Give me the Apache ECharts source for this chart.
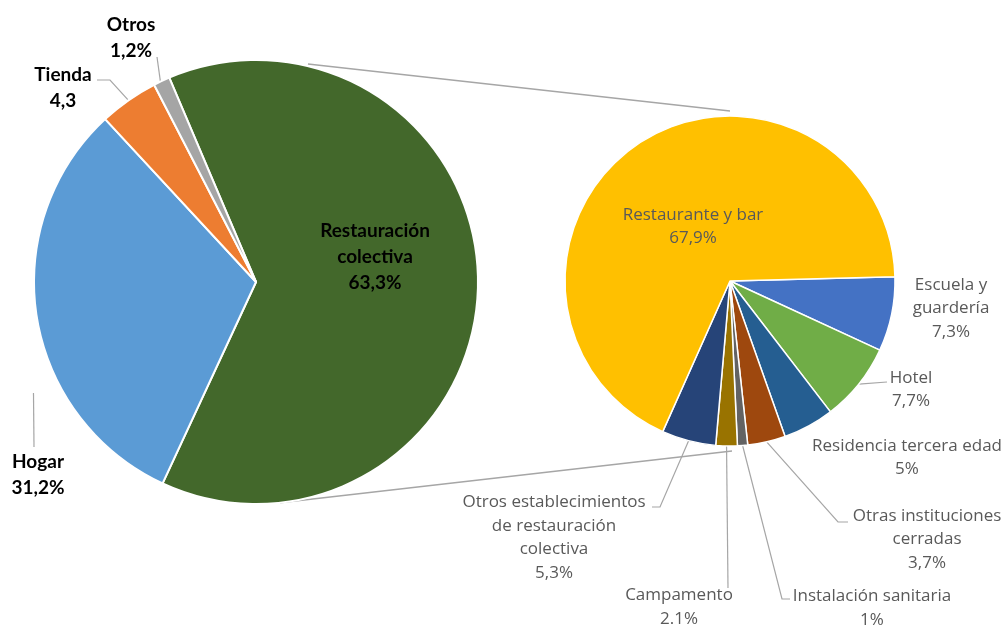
<!DOCTYPE html>
<html>
<head>
<meta charset="utf-8">
<script src="https://cdn.jsdelivr.net/npm/echarts@6/dist/echarts.min.js"></script>
<style>
  html, body { margin: 0; padding: 0; background: #ffffff; }
  #chart { width: 1003px; height: 626px; }
</style>
</head>
<body>
<div id="chart"></div>
<script>
// Where the food ends up
const mainNames = ['Restauración\ncolectiva', 'Hogar', 'Tienda', 'Otros'];
const mainValues = [63.3, 31.2, 4.3, 1.2];
const mainValueText = ['63,3%', '31,2%', '4,3', '1,2%'];

// Breakdown of "Restauración colectiva"
const subNames = [
  'Escuela y\nguardería',
  'Hotel',
  'Residencia tercera edad',
  'Otras instituciones\ncerradas',
  'Instalación sanitaria',
  'Campamento',
  'Otros establecimientos\nde restauración\ncolectiva',
  'Restaurante y bar'
];
const subValues = [7.3, 7.7, 5, 3.7, 1, 2.1, 5.3, 67.9];
const subValueText = ['7,3%', '7,7%', '5%', '3,7%', '1%', '2.1%', '5,3%', '67,9%'];

// Slice colours
const mainColors = ['#43682B', '#5B9BD5', '#ED7D31', '#A5A5A5'];
const subColors = ['#4472C4', '#70AD47', '#255E91', '#9E480E', '#636363', '#997300', '#264478', '#FFC000'];

// Pie geometry (pixels; start angle in ECharts degrees, counter-clockwise from 3 o'clock)
const MAIN = { cx: 256, cy: 282, r: 222, start: 113 };
const SUB = { cx: 730, cy: 281, r: 165, start: 1.5 };

// Label placement: block centre, optional leader path after the anchor on the slice
const mainLabelPos = [
  { x: 375, y: 257 },
  { x: 38, y: 475, anchor: { angle: 243.5, rf: 1.12 }, path: [[34, 447]] },
  { x: 63, y: 88, path: [[110, 80], [97, 80]] },
  { x: 131, y: 38, anchor: { angle: 334.5 }, path: [[157, 57]] }
];
const subLabelPos = [
  { x: 951, y: 308.5 },
  { x: 911, y: 389.5, path: [[887, 382]] },
  { x: 907, y: 457.5 },
  { x: 927, y: 539.5, path: [[838, 522], [848, 522]] },
  { x: 872, y: 608, path: [[782, 599], [790, 599]] },
  { x: 679, y: 607, path: [[728, 588]] },
  { x: 554, y: 537.5, path: [[660, 507], [652, 507]] },
  { x: 693, y: 226.5 }
];

// Clock angle (degrees clockwise from 12 o'clock) of a slice's middle
function midAngle(g, values, idx) {
  const total = values.reduce((a, b) => a + b, 0);
  let before = 0;
  for (let i = 0; i < idx; i++) before += values[i];
  return (90 - g.start) + (before + values[idx] / 2) / total * 360;
}

function polar(g, clockDeg, rf) {
  const a = clockDeg * Math.PI / 180;
  const r = g.r * (rf || 1);
  return [g.cx + r * Math.sin(a), g.cy - r * Math.cos(a)];
}

function makeLabelLayout(g, values, table) {
  return function (params) {
    const t = table[params.dataIndex];
    const out = { x: t.x, y: t.y, align: 'center', verticalAlign: 'middle' };
    if (t.path) {
      const a = t.anchor || {};
      const ang = a.angle != null ? a.angle : midAngle(g, values, params.dataIndex);
      out.labelLinePoints = [polar(g, ang, a.rf || 1)].concat(t.path);
    }
    return out;
  };
}

function buildData(names, values, colors, table) {
  return names.map((n, i) => ({
    name: n,
    value: values[i],
    itemStyle: { color: colors[i] },
    labelLine: { show: !!table[i].path }
  }));
}

const chart = echarts.init(document.getElementById('chart'), null, { renderer: 'canvas' });

// Connector lines between the two pies
const topStart = polar(MAIN, 13.4, 1.01);
const topEnd = [SUB.cx, SUB.cy - SUB.r - 5];
const botStart = polar(MAIN, 173.8, 1.0);
const botEnd = [SUB.cx + 2, SUB.cy + SUB.r + 5];
const connectorStyle = { stroke: '#A6A6A6', lineWidth: 1.5 };

chart.setOption({
  animation: false,
  backgroundColor: '#ffffff',
  graphic: [
    { type: 'line', z: 0, shape: { x1: topStart[0], y1: topStart[1], x2: topEnd[0], y2: topEnd[1] }, style: connectorStyle },
    { type: 'line', z: 0, shape: { x1: botStart[0], y1: botStart[1], x2: botEnd[0], y2: botEnd[1] }, style: connectorStyle }
  ],
  series: [
    {
      type: 'pie',
      center: [MAIN.cx, MAIN.cy],
      radius: [0, MAIN.r],
      startAngle: MAIN.start,
      clockwise: true,
      avoidLabelOverlap: false,
      silent: true,
      itemStyle: { borderColor: '#ffffff', borderWidth: 2 },
      label: {
        show: true,
        position: 'outside',
        formatter: p => p.name + '\n' + mainValueText[p.dataIndex],
        fontFamily: 'Lato',
        fontWeight: 'bold',
        fontSize: 19,
        lineHeight: 26,
        color: '#000000',
        align: 'center'
      },
      labelLine: { show: true, lineStyle: { color: '#A6A6A6', width: 1.2 } },
      labelLayout: makeLabelLayout(MAIN, mainValues, mainLabelPos),
      data: buildData(mainNames, mainValues, mainColors, mainLabelPos)
    },
    {
      type: 'pie',
      center: [SUB.cx, SUB.cy],
      radius: [0, SUB.r],
      startAngle: SUB.start,
      clockwise: true,
      avoidLabelOverlap: false,
      silent: true,
      itemStyle: { borderColor: '#ffffff', borderWidth: 1.5 },
      label: {
        show: true,
        position: 'outside',
        formatter: p => p.name + '\n' + subValueText[p.dataIndex],
        fontFamily: 'Open Sans',
        fontSize: 17,
        lineHeight: 23.5,
        color: '#595959',
        align: 'center'
      },
      labelLine: { show: true, lineStyle: { color: '#A6A6A6', width: 1.2 } },
      labelLayout: makeLabelLayout(SUB, subValues, subLabelPos),
      data: buildData(subNames, subValues, subColors, subLabelPos)
    }
  ]
});
</script>
</body>
</html>
